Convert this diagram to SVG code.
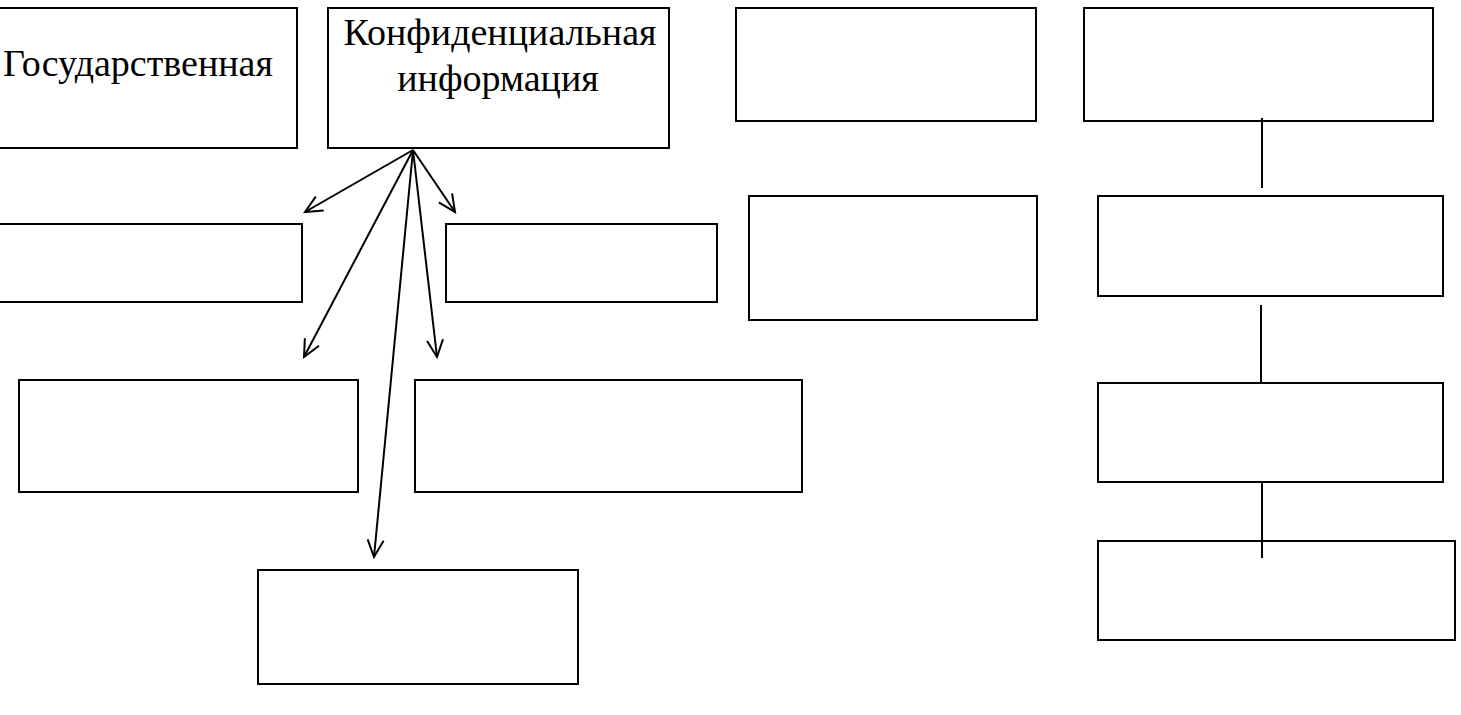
<svg xmlns="http://www.w3.org/2000/svg" width="1461" height="715" viewBox="0 0 1461 715">
<style>
.box{fill:#fff;stroke:#000;stroke-width:2}
.t{font-family:"Liberation Serif","Times New Roman",serif;font-size:38px;fill:#000;text-anchor:middle}
.c{stroke:#000;stroke-width:2;fill:none}
</style>
<defs>
<marker id="ah" markerUnits="userSpaceOnUse" markerWidth="22" markerHeight="22" refX="18" refY="9" orient="auto" viewBox="0 0 22 18">
<path d="M1,1 L18,9 L1,17" fill="none" stroke="#000" stroke-width="2"/>
</marker>
</defs>
<rect width="1461" height="715" fill="#fff"/>
<g id="n-gos"><rect class="box" x="-2" y="8" width="299" height="140"/><text class="t" x="138" y="76">Государственная</text></g>
<g id="n-konf"><rect class="box" x="328" y="8" width="341" height="140"/><text class="t" x="500" y="45">Конфиденциальная</text><text class="t" x="498" y="91">информация</text></g>
<g id="n-a1"><rect class="box" x="-2" y="224" width="304" height="78"/></g>
<g id="n-a2"><rect class="box" x="446" y="224" width="271" height="78"/></g>
<g id="n-a3"><rect class="box" x="19" y="380" width="339" height="112"/></g>
<g id="n-a4"><rect class="box" x="415" y="380" width="387" height="112"/></g>
<g id="n-a5"><rect class="box" x="258" y="570" width="320" height="114"/></g>
<g id="n-m1"><rect class="box" x="736" y="8" width="300" height="113"/></g>
<g id="n-m2"><rect class="box" x="749" y="196" width="288" height="124"/></g>
<g id="n-r1"><rect class="box" x="1084" y="8" width="349" height="113"/></g>
<g id="n-r2"><rect class="box" x="1098" y="196" width="345" height="100"/></g>
<g id="n-r3"><rect class="box" x="1098" y="383" width="345" height="99"/></g>
<g id="n-r4"><rect class="box" x="1098" y="541" width="357" height="99"/></g>
<g id="connectors">
<line class="c" x1="413" y1="150" x2="305" y2="212" marker-end="url(#ah)"/>
<line class="c" x1="413" y1="150" x2="455" y2="212" marker-end="url(#ah)"/>
<line class="c" x1="413" y1="150" x2="304" y2="357" marker-end="url(#ah)"/>
<line class="c" x1="413" y1="150" x2="437" y2="357" marker-end="url(#ah)"/>
<line class="c" x1="413" y1="150" x2="374" y2="557" marker-end="url(#ah)"/>
<line class="c" x1="1262" y1="118" x2="1262" y2="188"/>
<line class="c" x1="1261" y1="305" x2="1261" y2="383"/>
<line class="c" x1="1262" y1="482" x2="1262" y2="558"/>
</g>
</svg>
